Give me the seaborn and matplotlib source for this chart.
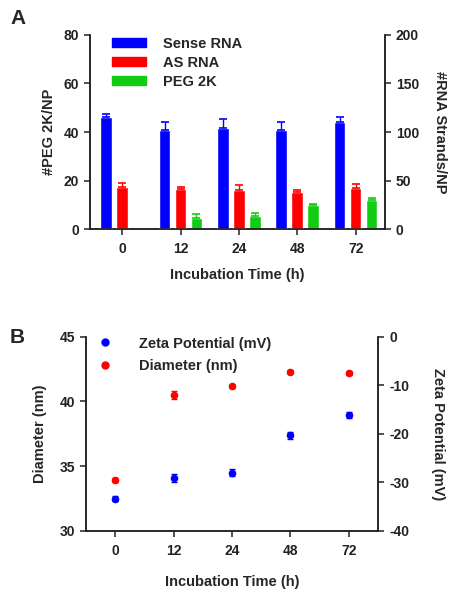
import matplotlib
matplotlib.use("Agg")
import matplotlib.pyplot as plt
from matplotlib.patches import Patch
from matplotlib.lines import Line2D
from matplotlib.container import BarContainer
import numpy as np
import pandas as pd
import seaborn as sns

# ---- data ----
times = ["0", "12", "24", "48", "72"]
series = ["Sense RNA", "AS RNA", "PEG 2K"]

# panel A: strands per NP (right axis) and PEG per NP (left axis)
sense_rna = [115, 102.5, 104, 102.5, 110.5]
sense_err = [4, 7.5, 9.5, 8, 5]
as_rna = [43, 41, 40, 38, 42]
as_err = [5, 2, 5, 2.5, 4]
peg_times = ["12", "24", "48", "72"]
peg_2k = [4.7, 5.5, 9.8, 12.2]
peg_err = [1.6, 1.3, 0.4, 0.6]

# panel B
diameter = [33.95, 40.5, 41.15, 42.3, 42.2]
diameter_err = [0.15, 0.3, 0.1, 0.1, 0.15]
zeta = [-33.4, -29.1, -28.0, -20.3, -16.2]
zeta_err = [0.5, 0.8, 0.7, 0.7, 0.6]

colors = {"Sense RNA": "#0000ff", "AS RNA": "#ff0000", "PEG 2K": "#11cc11"}

sns.set_style("ticks")
plt.rcParams["font.family"] = ["Liberation Sans", "DejaVu Sans"]
plt.rcParams["font.weight"] = "bold"
plt.rcParams["axes.labelweight"] = "bold"
plt.rcParams["axes.unicode_minus"] = False
plt.rcParams["axes.linewidth"] = 1.1
plt.rcParams["xtick.major.width"] = 1.1
plt.rcParams["ytick.major.width"] = 1.1
plt.rcParams["xtick.major.size"] = 4.5
plt.rcParams["ytick.major.size"] = 4.5
plt.rcParams["xtick.labelsize"] = 10
plt.rcParams["ytick.labelsize"] = 10
plt.rcParams["axes.labelsize"] = 10.5
plt.rcParams["xtick.color"] = "#222222"
plt.rcParams["ytick.color"] = "#222222"
plt.rcParams["axes.edgecolor"] = "#222222"

fig = plt.figure(figsize=(4.57, 6.0), dpi=100)

# ---------------- panel A ----------------
axA = fig.add_axes([0.197, 0.618, 0.645, 0.324])
axA2 = axA.twinx()

rna_df = pd.DataFrame({
    "time": times * 2,
    "series": ["Sense RNA"] * 5 + ["AS RNA"] * 5,
    "value": sense_rna + as_rna,
})
peg_df = pd.DataFrame({"time": peg_times, "series": "PEG 2K", "value": peg_2k})


def bars(ax, df, name, err):
    sub = df[df["series"] == name].reset_index(drop=True)
    n_before = len(ax.containers)
    sns.barplot(data=sub, x="time", y="value", hue="series", hue_order=series,
                order=times, palette=colors, width=0.82, gap=0.27, dodge=True,
                saturation=1, errorbar=None, legend=False, ax=ax)
    new = [c for c in ax.containers[n_before:]
           if isinstance(c, BarContainer) and len(c) > 0]
    patches = [p for c in new for p in c]
    patches.sort(key=lambda p: p.get_x())
    xs = [p.get_x() + p.get_width() / 2 for p in patches]
    hs = [p.get_height() for p in patches]
    # upper error bar only
    ax.errorbar(xs, hs, yerr=[np.zeros(len(err)), err], fmt="none",
                ecolor=colors[name], elinewidth=1, capsize=3, capthick=1.2)


bars(axA, peg_df, "PEG 2K", peg_err)
bars(axA2, rna_df, "Sense RNA", sense_err)
bars(axA2, rna_df, "AS RNA", as_err)

axA.set_ylim(0, 80)
axA.set_yticks([0, 20, 40, 60, 80])
axA2.set_ylim(0, 200)
axA2.set_yticks([0, 50, 100, 150, 200])
axA.set_xlim(-0.55, 4.5)
axA.set_xticks(range(5))
axA.set_xticklabels(times)
axA.set_xlabel("Incubation Time (h)", labelpad=8)
axA.set_ylabel("#PEG 2K/NP", labelpad=5)
axA2.set_ylabel("#RNA Strands/NP", rotation=270, labelpad=20)
axA2.set_xlabel("")
for a in (axA, axA2):
    a.spines["top"].set_visible(False)
axA.tick_params(axis="x", bottom=True, length=4.5, width=1.1,
                direction="out", pad=5)

handles = [Patch(color=colors[s], label=s) for s in series]
axA2.legend(handles=handles, loc="upper left", bbox_to_anchor=(0.045, 1.035),
            frameon=False, fontsize=10.5, handlelength=2.3, handleheight=0.55,
            handletextpad=1.2, labelspacing=0.35, borderaxespad=0.2)

fig.text(0.022, 0.969, "A", fontsize=15, fontweight="bold", va="center")

# ---------------- panel B ----------------
axB = fig.add_axes([0.188, 0.115, 0.639, 0.324])
axB2 = axB.twinx()

sns.scatterplot(x=times, y=diameter, color=colors["AS RNA"], s=30, linewidth=0,
                ax=axB, zorder=3)
axB.errorbar(times, diameter, yerr=diameter_err, fmt="none",
             ecolor=colors["AS RNA"], elinewidth=1, capsize=2.5)
sns.scatterplot(x=times, y=zeta, color=colors["Sense RNA"], s=30, linewidth=0,
                ax=axB2, zorder=3)
axB2.errorbar(times, zeta, yerr=zeta_err, fmt="none",
              ecolor=colors["Sense RNA"], elinewidth=1, capsize=2.5)

axB.set_ylim(30, 45)
axB.set_yticks([30, 35, 40, 45])
axB2.set_ylim(-40, 0)
axB2.set_yticks([-40, -30, -20, -10, 0])
axB.set_xlim(-0.5, 4.5)
axB.set_xlabel("Incubation Time (h)", labelpad=12)
axB.set_ylabel("Diameter (nm)", labelpad=9)
axB2.set_ylabel("Zeta Potential (mV)", rotation=270, labelpad=26)
for a in (axB, axB2):
    a.spines["top"].set_visible(False)
axB.tick_params(axis="x", bottom=True, length=4.5, width=1.1,
                direction="out", pad=5)

hB = [Line2D([], [], marker="o", linestyle="none", color=colors["Sense RNA"],
             markersize=5, label="Zeta Potential (mV)"),
      Line2D([], [], marker="o", linestyle="none", color=colors["AS RNA"],
             markersize=5, label="Diameter (nm)")]
axB2.legend(handles=hB, loc="upper left", bbox_to_anchor=(-0.003, 1.045),
            frameon=False, fontsize=10.5, handlelength=1.5,
            handletextpad=1.6, labelspacing=0.55, borderaxespad=0.2)

fig.text(0.022, 0.438, "B", fontsize=15, fontweight="bold", va="center")

fig.savefig("out.png", dpi=100)
